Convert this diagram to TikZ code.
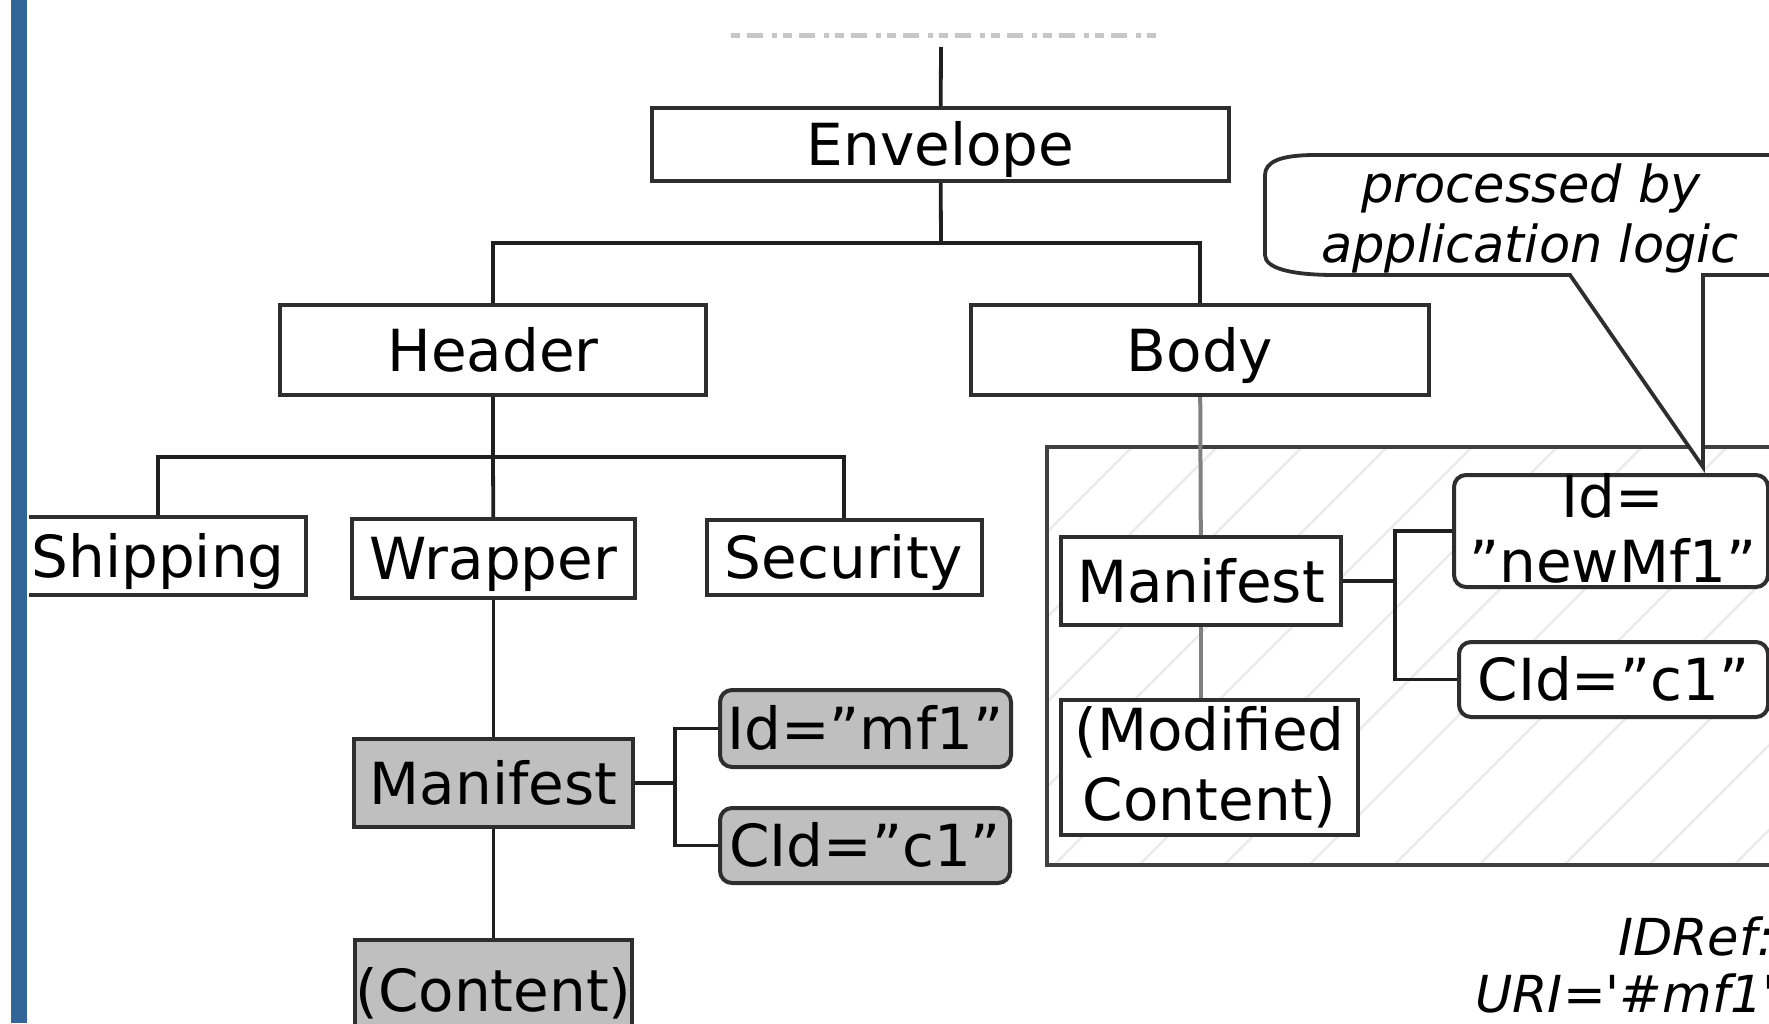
\documentclass[tikz,border=0pt]{standalone}
\usepackage{fontspec}
\setmainfont{DejaVu Sans}
\definecolor{barblue}{RGB}{50,101,152}
\begin{document}
\begin{tikzpicture}[x=1pt,y=-1pt,
  box/.style={draw=black!82, line width=4pt, fill=white, inner sep=0pt,
    font=\fontsize{58}{64}\selectfont, text height=55pt, text depth=13pt},
  grey/.style={fill=black!25},
  rbox/.style={box, rounded corners=12pt},
  conn/.style={draw=black!88, line width=3.8pt},
  lconn/.style={draw=black!50, line width=4pt},
  txt/.style={font=\fontsize{58}{64}\selectfont, inner sep=0pt, anchor=base},
  itext/.style={font=\fontsize{51}{60}\selectfont\itshape, inner sep=0pt, anchor=base},
  callout/.style={draw=black!82, line width=3.8pt, fill=white},
  hatch/.style={draw=black!8, line width=2.5pt}
]
\useasboundingbox (0,0) rectangle (1769,1023);
\fill[barblue] (11,0) rectangle (27,1023);
\begin{scope}
\clip (29,0) rectangle (1769,1023);
% faint cut-off text at the top
\draw[black!22, line width=5pt, dash pattern=on 9pt off 7pt on 16pt off 9pt on 5pt off 6pt] (731,35.5) -- (1162,35.5);
% hatched region
\fill[white] (1047,447) rectangle (1800,865);
\begin{scope}
\clip (1047,447) rectangle (1800,865);
\foreach \k in {-2,...,14} {
  \draw[hatch] ({1579+85*\k-437},437) -- ({1579+85*\k-875},875);
}
\end{scope}
\draw[black!75, line width=4pt] (1047,447) rectangle (1800,865);

% nodes
\node[box, minimum width=577pt, minimum height=73pt] (env) at (940.5,144.5) {Envelope};
\node[box, minimum width=426pt, minimum height=90pt] (hdr) at (493,350) {Header};
\node[box, minimum width=458pt, minimum height=90pt] (body) at (1200,350) {Body};
\coordinate (top) at (941,47);
\coordinate (j1) at (941,243);
\coordinate (j2) at (493,457);
\coordinate (j3) at (675,783);
\coordinate (j4) at (1395,581);

% connectors
\draw[conn] (top) -- (env);
\draw[conn] (env) -- (j1);
\draw[conn] (hdr.north) |- (j1) -| (body.north);
\draw[conn] (hdr) -- (j2);

\node[box, minimum width=296pt, minimum height=78pt] (ship) at (158,556) {Shipping};
\node[box, minimum width=283pt, minimum height=79pt] (wrap) at (493.5,558.5) {Wrapper};
\node[box, minimum width=275pt, minimum height=75pt] (sec) at (844,557) {Security};
\draw[conn] (ship.north) |- (j2) -| (sec.north);
\draw[conn] (j2) -- (wrap);

\node[box, grey, minimum width=279pt, minimum height=88pt] (man1) at (493.5,783) {Manifest};
\node[rbox, grey, minimum width=291pt, minimum height=77pt] (id1) at (865.5,728.5) {Id=”mf1”};
\node[rbox, grey, minimum width=290pt, minimum height=75pt] (cid1) at (865,845.5) {CId=”c1”};
\node[box, grey, minimum width=277pt, minimum height=100pt] (cont) at (493.5,990) {(Content)};
\draw[conn] (wrap) -- (man1);
\draw[conn] (man1) -- (cont);
\draw[conn] (man1) -- (j3);
\draw[conn] (id1.west) -| (j3) |- (cid1.west);

\node[box, minimum width=280pt, minimum height=88pt] (man2) at (1201,581) {Manifest};
\node[box, minimum width=297pt, minimum height=135pt] (mod) at (1209.5,767.5) {};
\node[txt] (moda) at (1209.5,750) {(Modified};
\node[txt] (modb) at (1209.5,820) {Content)};
\node[rbox, minimum width=314pt, minimum height=112pt] (id2) at (1611,531) {};
\node[txt] (id2a) at (1613,517) {Id=};
\node[txt] (id2b) at (1613,582) {”newMf1”};
\node[rbox, minimum width=309pt, minimum height=75pt] (cid2) at (1613.5,679.5) {CId=”c1”};
\draw[lconn] (body) -- (man2);
\draw[lconn] (man2.south) -- (man2.south |- mod.north);
\draw[conn] (man2) -- (j4);
\draw[conn] (id2.west) -| (j4) |- (cid2.west);

% callout
\draw[callout] (1570,275) -- (1703,467) -- (1703,275) -- (1850,275) -- (1850,155)
  -- (1315,155) .. controls (1280,155) and (1265,162) .. (1265,175)
  -- (1265,255) .. controls (1265,268) and (1290,275) .. (1335,275) -- cycle;
\node[itext] (cal1) at (1531,202) {processed by};
\node[itext] (cal2) at (1530,262) {application logic};

% IDRef text (cut off at the right edge, as in the reference)
\node[itext, anchor=base west] (idr1) at (1618,955) {IDRef:};
\node[itext, anchor=base west] (idr2) at (1475,1012) {URI=\textquotesingle\#mf1\textquotesingle};
\end{scope}
\end{tikzpicture}
\end{document}
